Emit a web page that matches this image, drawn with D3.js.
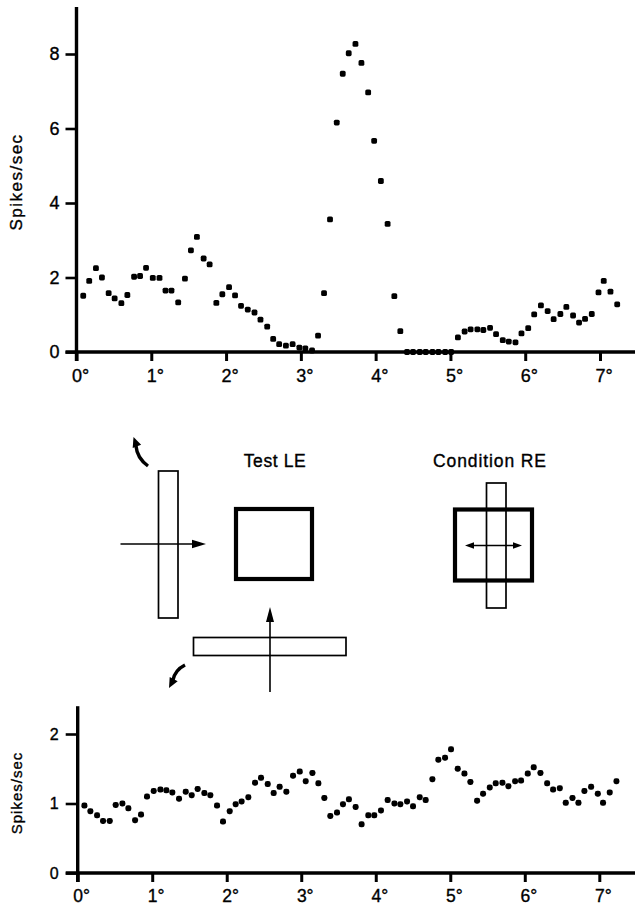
<!DOCTYPE html>
<html>
<head>
<meta charset="utf-8">
<script src="https://cdn.jsdelivr.net/npm/d3@7"></script>
<style>
  html, body { margin: 0; padding: 0; background: #fff; }
  svg { display: block; }
  svg text { stroke: #000; stroke-width: 0.35px; }
</style>
</head>
<body>
<script>
// Stimulus position along the sweep (degrees of visual angle), shared by both records
const degrees = [
  0.09, 0.17, 0.26, 0.34, 0.43, 0.51, 0.60, 0.68, 0.77, 0.85,
  0.93, 1.02, 1.11, 1.19, 1.27, 1.36, 1.45, 1.53, 1.61, 1.70,
  1.78, 1.87, 1.95, 2.04, 2.12, 2.20, 2.29, 2.38, 2.46, 2.55,
  2.63, 2.71, 2.80, 2.89, 2.98, 3.06, 3.15, 3.23, 3.31, 3.39,
  3.48, 3.56, 3.64, 3.73, 3.81, 3.90, 3.98, 4.07, 4.16, 4.25,
  4.33, 4.42, 4.50, 4.59, 4.67, 4.76, 4.84, 4.93, 5.01, 5.10,
  5.19, 5.27, 5.36, 5.44, 5.53, 5.61, 5.70, 5.78, 5.87, 5.95,
  6.04, 6.12, 6.21, 6.30, 6.38, 6.47, 6.55, 6.64, 6.72, 6.80,
  6.89, 6.98, 7.05, 7.14, 7.23
];

// Firing rate (spikes/sec), upper record
const topRates = [
  1.51, 1.91, 2.25, 2.00, 1.58, 1.44, 1.31, 1.53, 2.02, 2.04,
  2.26, 1.99, 1.99, 1.65, 1.65, 1.33, 1.97, 2.73, 3.09, 2.51,
  2.35, 1.32, 1.55, 1.74, 1.52, 1.24, 1.14, 1.06, 0.87, 0.68,
  0.35, 0.21, 0.17, 0.21, 0.12, 0.10, 0.04, 0.44, 1.58, 3.56,
  6.16, 7.47, 8.02, 8.27, 7.76, 6.97, 5.67, 4.59, 3.44, 1.50,
  0.56, 0, 0, 0, 0, 0, 0, 0, 0, 0.39,
  0.55, 0.61, 0.61, 0.59, 0.65, 0.48, 0.32, 0.28, 0.26, 0.50,
  0.64, 1.01, 1.25, 1.10, 0.88, 1.02, 1.21, 0.98, 0.79, 0.89,
  1.02, 1.60, 1.91, 1.62, 1.28
];

// Firing rate (spikes/sec), lower record
const bottomRates = [
  0.97, 0.89, 0.83, 0.75, 0.75, 0.98, 1.00, 0.93, 0.76, 0.84,
  1.10, 1.18, 1.20, 1.19, 1.16, 1.07, 1.17, 1.12, 1.21, 1.15,
  1.12, 0.97, 0.74, 0.89, 0.99, 1.03, 1.09, 1.30, 1.37, 1.28,
  1.15, 1.24, 1.17, 1.40, 1.46, 1.32, 1.44, 1.29, 1.08, 0.82,
  0.87, 0.99, 1.06, 0.95, 0.70, 0.83, 0.83, 0.90, 1.05, 1.00,
  0.99, 1.03, 0.96, 1.09, 1.05, 1.35, 1.63, 1.66, 1.78, 1.50,
  1.43, 1.31, 1.04, 1.14, 1.23, 1.29, 1.30, 1.25, 1.32, 1.33,
  1.43, 1.52, 1.44, 1.29, 1.20, 1.22, 1.01, 1.08, 1.01, 1.18,
  1.24, 1.14, 1.01, 1.16, 1.32
];

const degreeTicks = [0, 1, 2, 3, 4, 5, 6, 7];
const topRateTicks = [0, 2, 4, 6, 8];
const bottomRateTicks = [0, 1, 2];
const rateLabel = "Spikes/sec";
const testLabel = "Test LE";
const conditionLabel = "Condition RE";

const W = 635, H = 908;
const FONT = "'Liberation Sans', Arial, Helvetica, sans-serif";

const svg = d3.select("body").append("svg")
  .attr("width", W).attr("height", H)
  .attr("viewBox", `0 0 ${W} ${H}`);
svg.append("rect").attr("width", W).attr("height", H).attr("fill", "#fff");

// One response panel: axes, tick labels, rotated unit label and the dot record
function drawPanel(cfg, rates, rateTicks) {
  const x = d3.scaleLinear().domain([0, 7]).range([cfg.left, cfg.right7]);
  const y = d3.scaleLinear().domain([0, cfg.refValue]).range([cfg.base, cfg.refPx]);
  const g = svg.append("g");

  // vertical axis ticks and numbers
  const yAxis = d3.axisLeft(y)
    .tickValues(rateTicks)
    .tickSize(cfg.yTickLen)
    .tickPadding(cfg.yPad)
    .tickFormat(d3.format("d"));
  const gy = g.append("g").attr("transform", `translate(${cfg.left},0)`).call(yAxis);
  gy.select(".domain").remove();
  gy.selectAll(".tick line").attr("stroke", "#000").attr("stroke-width", 2.6);
  gy.selectAll(".tick text")
    .attr("font-family", FONT).attr("font-size", cfg.yFont).attr("fill", "#000");

  // horizontal axis ticks and degree labels
  const xAxis = d3.axisBottom(x)
    .tickValues(degreeTicks)
    .tickSize(cfg.xTickLen)
    .tickPadding(cfg.xPad)
    .tickFormat(d => d + "°");
  const gx = g.append("g").attr("transform", `translate(0,${cfg.base})`).call(xAxis);
  gx.select(".domain").remove();
  gx.selectAll(".tick line").attr("stroke", "#000").attr("stroke-width", 3);
  gx.selectAll(".tick text")
    .attr("font-family", FONT).attr("font-size", cfg.xFont).attr("fill", "#000")
    .attr("text-anchor", "start")
    .attr("dx", -cfg.xFont * 0.278);

  // axis lines
  g.append("line")
    .attr("x1", cfg.left).attr("x2", cfg.left)
    .attr("y1", y(cfg.axisMax)).attr("y2", cfg.base + cfg.xTickLen)
    .attr("stroke", "#000").attr("stroke-width", 3.4);
  g.append("line")
    .attr("x1", cfg.left - cfg.yTickLen).attr("x2", W)
    .attr("y1", cfg.base).attr("y2", cfg.base)
    .attr("stroke", "#000").attr("stroke-width", 3.4);

  // rate label
  g.append("text")
    .attr("transform", `translate(${cfg.labelX},${cfg.labelY}) rotate(-90)`)
    .attr("text-anchor", "middle")
    .attr("font-family", FONT)
    .attr("font-size", cfg.labelFont)
    .attr("letter-spacing", cfg.labelSpacing)
    .attr("fill", "#000")
    .text(rateLabel);

  // sampled responses
  const s = cfg.dot;
  g.append("g").selectAll("rect")
    .data(d3.zip(degrees, rates))
    .join("rect")
    .attr("x", d => x(d[0]) - s / 2)
    .attr("y", d => y(d[1]) - s / 2)
    .attr("width", s).attr("height", s)
    .attr("rx", cfg.dotRound).attr("ry", cfg.dotRound)
    .attr("fill", "#000");
}

drawPanel({
  left: 76.5, right7: 600, base: 352, refValue: 8, refPx: 54, axisMax: 9.26,
  yTickLen: 11, yPad: 6, xTickLen: 9, xPad: 8, yFont: 18, xFont: 18,
  labelX: 22, labelY: 182, labelFont: 17, labelSpacing: 1.5,
  dot: 5.8, dotRound: 1.6
}, topRates, topRateTicks);

drawPanel({
  left: 77.7, right7: 599.3, base: 873, refValue: 2, refPx: 734, axisMax: 2.4,
  yTickLen: 12, yPad: 7, xTickLen: 9, xPad: 8, yFont: 16, xFont: 17.5,
  labelX: 22, labelY: 793, labelFont: 15, labelSpacing: 1,
  dot: 6, dotRound: 2.4
}, bottomRates, bottomRateTicks);

// ---- stimulus schematic ----
const sk = svg.append("g").attr("stroke", "#000").attr("fill", "none");

function arrowHead(g, tipX, tipY, angle, len, half) {
  const a = angle * Math.PI / 180;
  const bx = tipX - len * Math.cos(a), by = tipY - len * Math.sin(a);
  const px = -Math.sin(a) * half, py = Math.cos(a) * half;
  g.append("path")
    .attr("d", `M${tipX},${tipY} L${bx + px},${by + py} L${bx - px},${by - py} Z`)
    .attr("fill", "#000").attr("stroke", "none");
}

// left: vertical bar swept to the right
sk.append("rect").attr("x", 158.5).attr("y", 471).attr("width", 19.5).attr("height", 147)
  .attr("stroke-width", 1.7);
sk.append("line").attr("x1", 120.5).attr("x2", 194).attr("y1", 544).attr("y2", 544)
  .attr("stroke-width", 1.6);
arrowHead(sk, 206, 544, 0, 14, 4.2);

// bottom: horizontal bar swept upward
sk.append("rect").attr("x", 193.5).attr("y", 637.5).attr("width", 152.5).attr("height", 18)
  .attr("stroke-width", 1.7);
sk.append("line").attr("x1", 270).attr("x2", 270).attr("y1", 692).attr("y2", 620)
  .attr("stroke-width", 1.6);
arrowHead(sk, 270, 607, -90, 15, 4);

// curved rotation arrows
sk.append("path").attr("d", "M148,466 Q137,458 136,446").attr("stroke-width", 3.4);
arrowHead(sk, 133.5, 437, -110, 10, 4.5);
sk.append("path").attr("d", "M185,665 Q175,670 173,680").attr("stroke-width", 3.4);
arrowHead(sk, 169, 688, 118, 10, 4.5);

// test field, left eye
sk.append("rect").attr("x", 236).attr("y", 509).attr("width", 76).attr("height", 70)
  .attr("stroke-width", 4.2);
svg.append("text").attr("x", 275).attr("y", 467).attr("text-anchor", "middle")
  .attr("font-family", FONT).attr("font-size", 17.5).attr("letter-spacing", 0.6)
  .attr("fill", "#000").text(testLabel);

// conditioning field, right eye
sk.append("rect").attr("x", 455).attr("y", 509.5).attr("width", 77).attr("height", 71)
  .attr("stroke-width", 4.2);
sk.append("rect").attr("x", 486.5).attr("y", 483).attr("width", 19.5).attr("height", 125)
  .attr("stroke-width", 1.7);
sk.append("line").attr("x1", 472).attr("x2", 515).attr("y1", 545.5).attr("y2", 545.5)
  .attr("stroke-width", 1.6);
arrowHead(sk, 465, 545.5, 180, 9, 3.2);
arrowHead(sk, 522, 545.5, 0, 9, 3.2);
svg.append("text").attr("x", 490).attr("y", 467).attr("text-anchor", "middle")
  .attr("font-family", FONT).attr("font-size", 17.5).attr("letter-spacing", 0.9)
  .attr("fill", "#000").text(conditionLabel);
</script>
</body>
</html>
